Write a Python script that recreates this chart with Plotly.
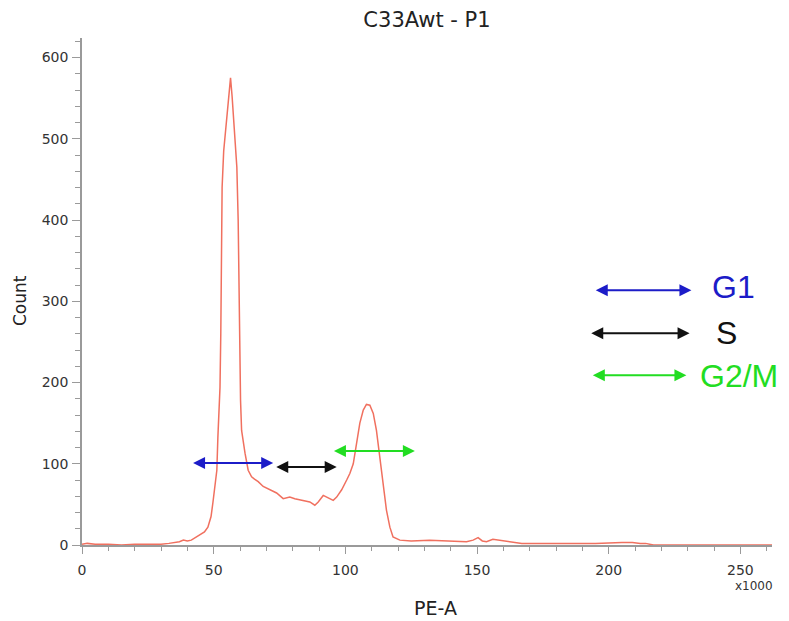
import plotly.graph_objects as go

# DNA content histogram (PE-A, x1000) and cell counts
pe_a = [0, 2, 5, 10, 15, 20, 25, 30, 33, 35, 37, 38.5, 40, 41.5, 43, 44.8, 46.5,
        47.8, 49, 49.7, 50.5, 51.2, 51.6, 52.0, 52.4, 52.7, 52.9, 53.2, 53.8,
        54.8, 55.8, 56.4, 57.0, 58.0, 58.8, 59.3, 59.6, 59.9, 60.2, 60.6, 61.2,
        61.9, 63.1, 64.4, 65.5, 66.9, 68.8, 71.3, 73.9, 76.4, 78.9, 80.8, 82.5,
        84.0, 86.5, 88.4, 89.7, 91.6, 92.9, 95.4, 96.7, 98.6, 100.5, 101.7,
        103.0, 104.2, 105.5, 106.8, 108.0, 109.3, 110.6, 111.8, 113.1, 114.3,
        115.6, 116.9, 118.1, 120.7, 125, 132, 140, 146, 148.5, 150.4, 152,
        153.6, 156, 158, 161, 164, 167, 175, 185, 195, 205, 209, 212, 214, 217,
        220, 230, 240, 250, 262]
count = [1, 2, 1, 1, 0, 1, 1, 1, 2, 3, 4, 6, 5, 6, 9, 12, 16,
         22, 35, 52, 70, 92, 133, 165, 194, 260, 360, 440, 485,
         522, 558, 575, 552, 505, 465, 400, 300, 230, 178, 141, 125,
         113, 92, 84, 81, 78, 72, 68, 64, 57, 59, 57, 56,
         55, 53, 49, 53, 61, 59, 55, 59, 68, 80, 88,
         100, 125, 150, 166, 173, 172, 162, 141, 105, 72,
         43, 22, 10, 6, 5, 6, 5, 4, 6, 9, 5,
         4, 7, 6, 5, 3, 2, 2, 2, 2, 3, 3, 2, 2, 0,
         0, 0, 0, 0, 0]

# Cell-cycle phase ranges marked on the histogram
phases = ["G1", "S", "G2/M"]
phase_start = [41.6, 73.2, 95.1]
phase_end = [72.6, 96.7, 126.4]
phase_level = [101, 96, 115.6]
phase_colors = ["#1c1cc8", "#111111", "#22dd22"]

# Key: sample arrow and label for each phase
key_start = [194.5, 192.8, 193.4]
key_end = [231.4, 230.7, 229.5]
key_level = [313.6, 260.7, 209.0]
key_label_x = [238.5, 240.0, 233.8]
key_label_y = [317.0, 260.7, 208.4]

x_ticks = [0, 50, 100, 150, 200, 250]
y_ticks = [0, 100, 200, 300, 400, 500, 600]

FONT = "DejaVu Sans"
AXIS_GREY = "#9a9a9a"

fig = go.Figure()
fig.add_trace(go.Scatter(
    x=pe_a, y=count, mode="lines",
    line=dict(color="#f0705f", width=1.5),
    showlegend=False, hoverinfo="skip",
))


def range_arrow(x0, x1, yv, col):
    # double-headed arrow spanning [x0, x1] at height yv
    return dict(
        x=x1, y=yv, ax=x0, ay=yv, xref="x", yref="y", axref="x", ayref="y",
        text="", showarrow=True, arrowside="end+start",
        arrowhead=2, startarrowhead=2, arrowsize=1.2, startarrowsize=1.2,
        arrowwidth=2, arrowcolor=col,
    )


annotations = []
for x0, x1, yv, col in zip(phase_start, phase_end, phase_level, phase_colors):
    annotations.append(range_arrow(x0, x1, yv, col))

for name, x0, x1, yv, lx, ly, col in zip(phases, key_start, key_end, key_level,
                                         key_label_x, key_label_y, phase_colors):
    annotations.append(range_arrow(x0, x1, yv, col))
    annotations.append(dict(
        x=lx, y=ly, xref="x", yref="y", text=name, showarrow=False,
        xanchor="left", yanchor="middle",
        font=dict(family="Liberation Sans", size=32, color=col),
    ))

# Axis captions
annotations += [
    dict(x=0.513, y=-0.124, xref="paper", yref="paper", text="PE-A",
         showarrow=False, xanchor="center", yanchor="middle",
         font=dict(family=FONT, size=19, color="#222222")),
    dict(x=-0.0899, y=0.483, xref="paper", yref="paper", text="Count",
         textangle=-90, showarrow=False, xanchor="center", yanchor="middle",
         font=dict(family=FONT, size=17, color="#222222")),
    dict(x=0.974, y=-0.081, xref="paper", yref="paper", text="x1000",
         showarrow=False, xanchor="center", yanchor="middle",
         font=dict(family=FONT, size=12, color="#333333")),
]

fig.update_layout(
    width=789, height=621,
    margin=dict(l=82, r=17, t=38, b=76),
    paper_bgcolor="white", plot_bgcolor="white",
    title=dict(text="C33Awt - P1", x=0.5, xref="paper", xanchor="center",
               y=1 - 20 / 621, yanchor="middle",
               font=dict(family=FONT, size=21, color="#222222")),
    annotations=annotations,
    showlegend=False,
)

fig.update_xaxes(
    range=[0, 262], tickvals=x_ticks, showgrid=False, zeroline=False,
    showline=True, linecolor=AXIS_GREY, linewidth=1.5,
    ticks="outside", ticklen=7, tickcolor=AXIS_GREY, tickwidth=1,
    ticklabelstandoff=4,
    tickfont=dict(family=FONT, size=14, color="#333333"),
    minor=dict(ticks="outside", dtick=10, ticklen=4, tickcolor=AXIS_GREY),
)
fig.update_yaxes(
    range=[0, 624], tickvals=y_ticks, showgrid=False, zeroline=False,
    showline=True, linecolor=AXIS_GREY, linewidth=1.5,
    ticks="outside", ticklen=8, tickcolor=AXIS_GREY, tickwidth=1,
    ticklabelstandoff=1,
    tickfont=dict(family=FONT, size=14, color="#333333"),
    minor=dict(ticks="outside", dtick=20, ticklen=5, tickcolor=AXIS_GREY),
)

fig.write_html("out.html")
